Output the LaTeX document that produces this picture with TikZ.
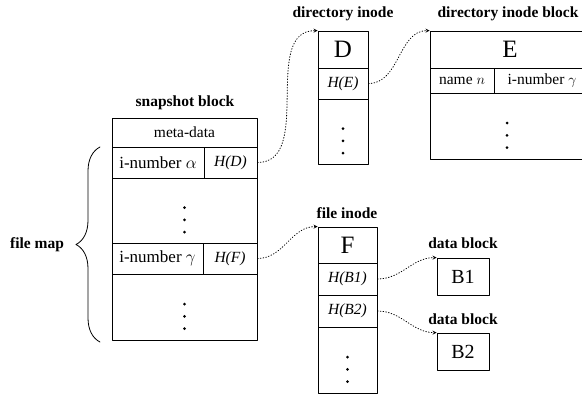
\documentclass[tikz,border=0pt]{standalone}
\usepackage{fontspec}
\setmainfont{Liberation Serif}
\usetikzlibrary{decorations.pathreplacing}
\begin{document}
\begin{tikzpicture}[>=stealth,line join=round,line cap=round,x=1pt,y=-1pt,
		cell/.style={draw,line width=0.8pt,inner sep=0pt,font=\fontsize{15.5}{17}\selectfont},
		ino/.style={cell,font=\fontsize{17}{19}\selectfont},
		big/.style={cell,font=\fontsize{25}{28}\selectfont},
		blk/.style={cell,font=\fontsize{20}{22}\selectfont,minimum width=52,minimum height=37},
		lbl/.style={font=\fontsize{15.5}{17}\selectfont\bfseries},
		dot/.style={circle,fill,inner sep=0pt,minimum size=3pt},
		link/.style={->,dotted,line width=0.8pt,out=0,in=180}]
		\useasboundingbox (0,0) rectangle (582,394);
		% snapshot block
		\node[lbl] (snaplbl) at (185,103) {snapshot block};
		\node[cell,minimum width=145,minimum height=29] (meta) at (184.5,132.5) {meta-data};
		\node[ino,minimum width=92,minimum height=31] (inoa) at (158,162.5) {i-number $\alpha$};
		\node[cell,minimum width=53,minimum height=31] (hd) at (230.5,162.5) {\textit{H(D)}};
		\node[cell,minimum width=145,minimum height=65] (dotsa) at (184.5,210.5) {};
		\node[ino,minimum width=91,minimum height=31] (inog) at (157.5,258.5) {i-number $\gamma$};
		\node[cell,minimum width=54,minimum height=31] (hf) at (230,258.5) {\textit{H(F)}};
		\node[cell,minimum width=145,minimum height=66] (dotsb) at (184.5,307) {};
		\coordinate (mapbot) at (100,342);
		\coordinate (maptop) at (100,147);
		\draw[line width=0.8pt,decorate,decoration={brace,amplitude=24}] (mapbot)--(maptop);
		\node[lbl] (maplbl) at (37,245) {file map};
		% directory inode
		\node[lbl] (dirlbl) at (343,14) {directory inode};
		\node[big,minimum width=50,minimum height=37] (dd) at (343,49.5) {D};
		\node[cell,minimum width=50,minimum height=31] (he) at (343,83.5) {\textit{H(E)}};
		\node[cell,minimum width=50,minimum height=65] (dotsd) at (343,131.5) {};
		% directory inode block
		\node[lbl] (blklbl) at (508,14) {directory inode block};
		\node[big,minimum width=160,minimum height=37] (ee) at (510,49.5) {E};
		\node[cell,minimum width=64,minimum height=25] (name) at (462,80.5) {name $n$};
		\node[cell,minimum width=96,minimum height=25] (inoe) at (542,80.5) {i-number $\gamma$\hspace{6pt}};
		\node[cell,minimum width=160,minimum height=66] (dotse) at (510,126) {};
		% file inode
		\node[lbl] (filelbl) at (347,213) {file inode};
		\node[big,minimum width=59,minimum height=36] (ff) at (347.5,245) {F};
		\node[cell,minimum width=59,minimum height=32] (hb1) at (347.5,279) {\textit{H(B1)}};
		\node[cell,minimum width=59,minimum height=32] (hb2) at (347.5,311) {\textit{H(B2)}};
		\node[cell,minimum width=59,minimum height=66] (dotsf) at (347.5,360) {};
		% data blocks
		\node[lbl] (data1lbl) at (463,243) {data block};
		\node[blk] (bb1) at (463,276.5) {B1};
		\node[lbl] (data2lbl) at (463,319) {data block};
		\node[blk] (bb2) at (463,351.5) {B2};
		% vertical dots
		\foreach \n in {dotsa,dotsb,dotsd,dotsf}
		\foreach \dy in {3,-9.3,-21.6}
		\node[dot] at ([yshift=\dy pt]\n.center) {};
		\foreach \dy in {3,-9.3,-21.6}
		\node[dot] at ([xshift=-3pt,yshift=\dy pt]dotse.center) {};
		% pointers
		\draw[link] (hd.east) to (dd.north west);
		\draw[link] (he.east) to (ee.north west);
		\draw[link] (hf.east) to (ff.north west);
		\draw[link] (hb1.east) to (bb1.north west);
		\draw[link] (hb2.east) to (bb2.north west);
\end{tikzpicture}
\end{document}
